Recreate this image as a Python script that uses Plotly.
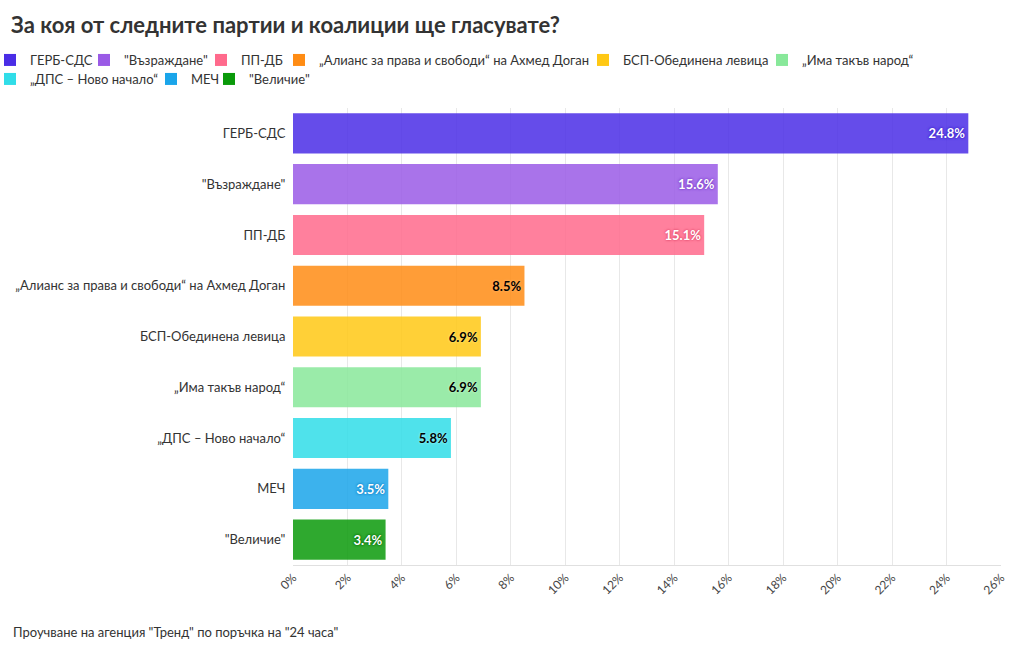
import plotly.graph_objects as go

parties = ["ГЕРБ-СДС", "\"Възраждане\"", "ПП-ДБ", "„Алианс за права и свободи“ на Ахмед Доган",
           "БСП-Обединена левица", "„Има такъв народ“", "„ДПС – Ново начало“", "МЕЧ", "\"Величие\""]
values = [24.8, 15.6, 15.1, 8.5, 6.9, 6.9, 5.8, 3.5, 3.4]
colors = ["#4a2de6", "#9a5ae6", "#ff6a8c", "#ff8c14", "#ffc814", "#88e89a", "#30dde8", "#1aa5ea", "#0a9a0a"]
text_colors = ["white", "white", "white", "black", "black", "black", "black", "white", "white"]
text_shadows = ["#3a20c8", "#7a3cc8", "#e0476a", "#ffb060", "#ffe070", "#c0f5c8", "#90f0f5", "#1080c8", "#066e06"]
ticks = list(range(0, 27, 2))

# legend entries laid out in two rows like the original (label start in px, row centre in px)
legend_text_x = [31, 125, 242, 320, 624, 803, 31, 192, 250]
legend_row_y = [60, 60, 60, 60, 60, 60, 79, 79, 79]

PLOT_L, PLOT_R, PLOT_T, PLOT_B = 293, 1001, 108, 565
pw = PLOT_R - PLOT_L
ph = PLOT_B - PLOT_T

def px_x(x):
    return (x - PLOT_L) / pw

def px_y(y):
    return (PLOT_B - y) / ph

fig = go.Figure()
legend_layouts = {}
for i, (p, v, c, tc, sh) in enumerate(zip(parties, values, colors, text_colors, text_shadows)):
    lg = f"legend{i + 2}"
    fig.add_trace(go.Bar(
        y=[p], x=[v], name=p, orientation="h", legend=lg,
        marker=dict(color=c, opacity=0.85, line=dict(width=0)),
        text=[f"{v:.1f}%"], textposition="inside", insidetextanchor="end",
        textfont=dict(color=tc, size=13, family="Lato", weight="bold",
                      shadow=f"0px 0px 2px {sh}, 0px 0px 3px {sh}"),
        cliponaxis=False, hoverinfo="x+y",
    ))
    legend_layouts[lg] = dict(orientation="h", xanchor="left", yanchor="middle",
                              x=px_x(legend_text_x[i] - 41), y=px_y(legend_row_y[i]),
                              font=dict(size=13, color="#333"), itemwidth=30,
                              bgcolor="rgba(0,0,0,0)")

fig.update_layout(
    width=1020, height=650, showlegend=True,
    paper_bgcolor="white", plot_bgcolor="white",
    font=dict(family="Lato", size=13, color="#333"),
    title=dict(text="<b>За коя от следните партии и коалиции ще гласувате?</b>",
               x=11 / 1020, xanchor="left", y=1 - 25 / 650, yanchor="middle",
               font=dict(size=22, color="#333", family="Lato")),
    margin=dict(l=PLOT_L, r=1020 - PLOT_R, t=PLOT_T, b=650 - PLOT_B, autoexpand=False),
    bargap=0.21,
    barmode="overlay",
    xaxis=dict(range=[0, 26], tickvals=ticks, ticktext=[f"{t}%" for t in ticks],
               tickangle=-45, showgrid=True, gridcolor="#e8e8e8", zeroline=False,
               showline=True, linecolor="#e0e0e0", ticks="", tickfont=dict(size=12, color="#444")),
    yaxis=dict(categoryorder="array", categoryarray=parties[::-1],
               showgrid=False, ticks="", ticksuffix="  ", tickfont=dict(size=13, color="#333")),
    annotations=[dict(text="Проучване на агенция \"Тренд\" по поръчка на \"24 часа\"",
                      x=px_x(11), xref="paper", xanchor="left", y=px_y(632), yref="paper",
                      yanchor="middle", showarrow=False, font=dict(size=13, color="#333"))],
    **legend_layouts,
)
fig.write_html("out.html", config={"displayModeBar": False},
               post_script="document.body.style.margin='0';document.body.style.overflow='hidden';")
